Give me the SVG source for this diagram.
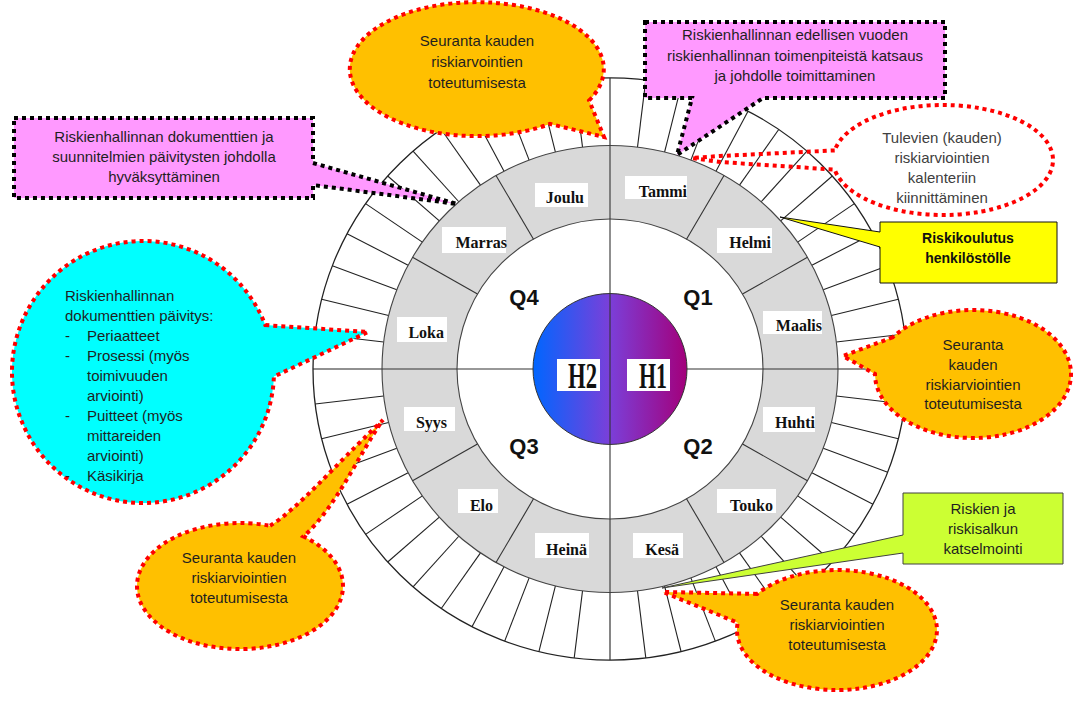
<svg xmlns="http://www.w3.org/2000/svg" xmlns:xlink="http://www.w3.org/1999/xlink" width="1077" height="702" viewBox="0 0 1077 702">
  <style>
    .dotR{stroke:#ff0000;stroke-width:4;stroke-dasharray:4 4;}
    .dotK{stroke:#000;stroke-width:4;stroke-dasharray:4 4;}
    .t{font-family:"Liberation Sans",Arial,sans-serif;font-size:15px;fill:#1f1f1f;text-anchor:middle;}
    .tl{font-family:"Liberation Sans",Arial,sans-serif;font-size:15px;fill:#1f1f1f;}
    .mon{font-family:"Liberation Serif","Times New Roman",serif;font-weight:bold;font-size:16px;fill:#111;text-anchor:end;}
    .h{font-family:"Liberation Serif","Times New Roman",serif;font-weight:bold;font-size:36px;fill:#111;}
    .q{font-family:"Liberation Sans",Arial,sans-serif;font-weight:bold;font-size:22px;fill:#111;text-anchor:middle;}
    .lbl{fill:#fff;}
    .tk{stroke:#222;stroke-width:1.1;}
    .dv{stroke:#333;stroke-width:1.1;}
  </style>
  <defs>
    <linearGradient id="hg" x1="0" y1="0" x2="1" y2="0">
      <stop offset="0" stop-color="#0066ff"/>
      <stop offset="0.5" stop-color="#7b3fd9"/>
      <stop offset="1" stop-color="#a3007a"/>
    </linearGradient>
    <line id="tick" class="tk" x1="0" y1="-228" x2="0" y2="-297"/>
    <line id="mdiv" class="dv" x1="0" y1="-153" x2="0" y2="-228"/>
  </defs>

  <rect width="1077" height="702" fill="#fff"/>

  <!-- year wheel: weeks, months, quarters, halves -->
  <g id="wheel" transform="translate(610 369) scale(1 0.98)">
    <circle r="297" fill="#fff" stroke="#222" stroke-width="1.3"/>
    <g id="weeks">
      <use xlink:href="#tick"/>
      <use xlink:href="#tick" transform="rotate(6.923)"/>
      <use xlink:href="#tick" transform="rotate(13.846)"/>
      <use xlink:href="#tick" transform="rotate(20.769)"/>
      <use xlink:href="#tick" transform="rotate(27.692)"/>
      <use xlink:href="#tick" transform="rotate(34.615)"/>
      <use xlink:href="#tick" transform="rotate(41.538)"/>
      <use xlink:href="#tick" transform="rotate(48.462)"/>
      <use xlink:href="#tick" transform="rotate(55.385)"/>
      <use xlink:href="#tick" transform="rotate(62.308)"/>
      <use xlink:href="#tick" transform="rotate(69.231)"/>
      <use xlink:href="#tick" transform="rotate(76.154)"/>
      <use xlink:href="#tick" transform="rotate(83.077)"/>
      <use xlink:href="#tick" transform="rotate(90)"/>
      <use xlink:href="#tick" transform="rotate(96.923)"/>
      <use xlink:href="#tick" transform="rotate(103.846)"/>
      <use xlink:href="#tick" transform="rotate(110.769)"/>
      <use xlink:href="#tick" transform="rotate(117.692)"/>
      <use xlink:href="#tick" transform="rotate(124.615)"/>
      <use xlink:href="#tick" transform="rotate(131.538)"/>
      <use xlink:href="#tick" transform="rotate(138.462)"/>
      <use xlink:href="#tick" transform="rotate(145.385)"/>
      <use xlink:href="#tick" transform="rotate(152.308)"/>
      <use xlink:href="#tick" transform="rotate(159.231)"/>
      <use xlink:href="#tick" transform="rotate(166.154)"/>
      <use xlink:href="#tick" transform="rotate(173.077)"/>
      <use xlink:href="#tick" transform="rotate(180)"/>
      <use xlink:href="#tick" transform="rotate(186.923)"/>
      <use xlink:href="#tick" transform="rotate(193.846)"/>
      <use xlink:href="#tick" transform="rotate(200.769)"/>
      <use xlink:href="#tick" transform="rotate(207.692)"/>
      <use xlink:href="#tick" transform="rotate(214.615)"/>
      <use xlink:href="#tick" transform="rotate(221.538)"/>
      <use xlink:href="#tick" transform="rotate(228.462)"/>
      <use xlink:href="#tick" transform="rotate(235.385)"/>
      <use xlink:href="#tick" transform="rotate(242.308)"/>
      <use xlink:href="#tick" transform="rotate(249.231)"/>
      <use xlink:href="#tick" transform="rotate(256.154)"/>
      <use xlink:href="#tick" transform="rotate(263.077)"/>
      <use xlink:href="#tick" transform="rotate(270)"/>
      <use xlink:href="#tick" transform="rotate(276.923)"/>
      <use xlink:href="#tick" transform="rotate(283.846)"/>
      <use xlink:href="#tick" transform="rotate(290.769)"/>
      <use xlink:href="#tick" transform="rotate(297.692)"/>
      <use xlink:href="#tick" transform="rotate(304.615)"/>
      <use xlink:href="#tick" transform="rotate(311.538)"/>
      <use xlink:href="#tick" transform="rotate(318.462)"/>
      <use xlink:href="#tick" transform="rotate(325.385)"/>
      <use xlink:href="#tick" transform="rotate(332.308)"/>
      <use xlink:href="#tick" transform="rotate(339.231)"/>
      <use xlink:href="#tick" transform="rotate(346.154)"/>
      <use xlink:href="#tick" transform="rotate(353.077)"/>
    </g>
    <circle r="228" fill="#d9d9d9" stroke="#444" stroke-width="1.1"/>
    <circle r="153" fill="#fff" stroke="#444" stroke-width="1.1"/>
    <g id="months">
      <use xlink:href="#mdiv" transform="rotate(30)"/>
      <use xlink:href="#mdiv" transform="rotate(60)"/>
      <use xlink:href="#mdiv" transform="rotate(120)"/>
      <use xlink:href="#mdiv" transform="rotate(150)"/>
      <use xlink:href="#mdiv" transform="rotate(210)"/>
      <use xlink:href="#mdiv" transform="rotate(240)"/>
      <use xlink:href="#mdiv" transform="rotate(300)"/>
      <use xlink:href="#mdiv" transform="rotate(330)"/>
    </g>
    <line class="dv" x1="-228" y1="0" x2="-77" y2="0"/>
    <line class="dv" x1="77" y1="0" x2="228" y2="0"/>
    <circle r="77" fill="url(#hg)" stroke="#333" stroke-width="1"/>
    <line class="dv" x1="0" y1="-228" x2="0" y2="228"/>
  </g>

  <!-- month labels -->
  <g id="month-labels">
    <rect class="lbl" x="535" y="183" width="53" height="24"/><text class="mon" x="584" y="203">Joulu</text>
    <rect class="lbl" x="625" y="176" width="62" height="23"/><text class="mon" x="687" y="197">Tammi</text>
    <rect class="lbl" x="717" y="228" width="55" height="25"/><text class="mon" x="771" y="248">Helmi</text>
    <rect class="lbl" x="763" y="311" width="59" height="23"/><text class="mon" x="822" y="331">Maalis</text>
    <rect class="lbl" x="763" y="407" width="52" height="25"/><text class="mon" x="815" y="428">Huhti</text>
    <rect class="lbl" x="717" y="489" width="59" height="24"/><text class="mon" x="773" y="511">Touko</text>
    <rect class="lbl" x="633" y="533" width="50" height="25"/><text class="mon" x="679" y="555">Kesä</text>
    <rect class="lbl" x="535" y="533" width="54" height="25"/><text class="mon" x="587" y="555">Heinä</text>
    <rect class="lbl" x="458" y="489" width="40" height="24"/><text class="mon" x="493" y="511">Elo</text>
    <rect class="lbl" x="404" y="407" width="51" height="24"/><text class="mon" x="447" y="428">Syys</text>
    <rect class="lbl" x="397" y="317" width="50" height="25"/><text class="mon" x="444" y="338">Loka</text>
    <rect class="lbl" x="442" y="227" width="64" height="26"/><text class="mon" x="507" y="248">Marras</text>
  </g>

  <!-- quarter and half-year labels -->
  <g id="quarters">
    <text class="q" x="698" y="305">Q1</text>
    <text class="q" x="698" y="454">Q2</text>
    <text class="q" x="524" y="454">Q3</text>
    <text class="q" x="524" y="305">Q4</text>
  </g>
  <g id="halves">
    <rect class="lbl" x="557" y="359" width="43" height="32"/>
    <text class="h" x="568" y="388" textLength="29" lengthAdjust="spacingAndGlyphs">H2</text>
    <rect class="lbl" x="627" y="359" width="43" height="32"/>
    <text class="h" x="639" y="388" textLength="28" lengthAdjust="spacingAndGlyphs">H1</text>
  </g>

  <!-- callouts (bubble outline includes its pointer) -->
  <g id="connectors">
    <g id="c-tulevien">
      <path class="dotR" fill="none" d="M834.7 150.4 L720 156 L692 158 L720 162 L834.7 169.6 A110 55 0 1 0 834.7 150.4 Z"/>
      <text class="t" style="fill:#404040" x="942" y="143">Tulevien (kauden)</text>
      <text class="t" style="fill:#404040" x="942" y="163">riskiarviointien</text>
      <text class="t" style="fill:#404040" x="942" y="183">kalenteriin</text>
      <text class="t" style="fill:#404040" x="942" y="203">kiinnittäminen</text>
    </g>

    <g id="c-seuranta-top">
      <path class="dotR" fill="#ffc000" d="M589.1 100.4 A127 67 0 1 0 549.9 123.9 L604 137 Z"/>
      <text class="t" x="477" y="46">Seuranta kauden</text>
      <text class="t" x="477" y="67">riskiarvointien</text>
      <text class="t" x="477" y="88">toteutumisesta</text>
    </g>

    <g id="c-katsaus">
      <path class="dotK" fill="#ff99ff" d="M645 22 H945 V98 H763 L677 155 L692 98 H645 Z"/>
      <text class="t" x="795" y="40">Riskienhallinnan edellisen vuoden</text>
      <text class="t" x="795" y="61">riskienhallinnan toimenpiteistä katsaus</text>
      <text class="t" x="795" y="81">ja johdolle toimittaminen</text>
    </g>

    <g id="c-hyvaksynta">
      <path class="dotK" fill="#ff99ff" d="M14 118 H313 V163 L457 204 L313 185 V198 H14 Z"/>
      <text class="t" x="164" y="142">Riskienhallinnan dokumenttien ja</text>
      <text class="t" x="164" y="162">suunnitelmien päivitysten johdolla</text>
      <text class="t" x="164" y="182">hyväksyttäminen</text>
    </g>

    <g id="c-koulutus">
      <path fill="#ffff00" stroke="#111" stroke-width="1" d="M880 222 H1057 V283 H880 V247 L780 217 L880 232 Z"/>
      <text class="t" style="font-weight:bold;font-size:14px;fill:#111" x="968" y="243">Riskikoulutus</text>
      <text class="t" style="font-weight:bold;font-size:14px;fill:#111" x="968" y="263">henkilöstölle</text>
    </g>

    <g id="c-paivitys">
      <path class="dotR" fill="#00ffff" d="M265.3 325.1 L368 332 L273.9 376.6 A131 131 0 1 1 265.3 325.1 Z"/>
      <text class="tl" x="65" y="301">Riskienhallinnan</text>
      <text class="tl" x="65" y="321">dokumenttien päivitys:</text>
      <text class="tl" x="65" y="341">-</text><text class="tl" x="87" y="341">Periaatteet</text>
      <text class="tl" x="65" y="361">-</text><text class="tl" x="87" y="361">Prosessi (myös</text>
      <text class="tl" x="87" y="381">toimivuuden</text>
      <text class="tl" x="87" y="401">arviointi)</text>
      <text class="tl" x="65" y="421">-</text><text class="tl" x="87" y="421">Puitteet (myös</text>
      <text class="tl" x="87" y="441">mittareiden</text>
      <text class="tl" x="87" y="461">arviointi)</text>
      <text class="tl" x="65" y="481">-</text><text class="tl" x="87" y="481">Käsikirja</text>
    </g>

    <g id="c-seuranta-right">
      <path class="dotR" fill="#ffc000" d="M892.7 337.3 L843 356 L875 374 A98 64 0 1 0 892.7 337.3 Z"/>
      <text class="t" x="973" y="350">Seuranta</text>
      <text class="t" x="973" y="370">kauden</text>
      <text class="t" x="973" y="390">riskiarviointien</text>
      <text class="t" x="973" y="409">toteutumisesta</text>
    </g>

    <g id="c-katselmointi">
      <path fill="#ccff33" stroke="#404040" stroke-width="1" d="M903 493 H1063 V564 H903 V553 L662 588 L903 535 Z"/>
      <text class="t" x="983" y="514">Riskien ja</text>
      <text class="t" x="983" y="534">riskisalkun</text>
      <text class="t" x="983" y="554">katselmointi</text>
    </g>

    <g id="c-seuranta-bottom">
      <path class="dotR" fill="#ffc000" d="M757.1 593.9 L663 592 L737.7 622.7 A100 60 0 1 0 757.1 593.9 Z"/>
      <text class="t" x="837" y="610">Seuranta kauden</text>
      <text class="t" x="837" y="630">riskiarviointien</text>
      <text class="t" x="837" y="650">toteutumisesta</text>
    </g>

    <g id="c-seuranta-left">
      <path class="dotR" fill="#ffc000" d="M270.1 525.8 C300 507 330 470 383 420 C360 452 336 508 303.4 536.4 A103 63 0 1 1 270.1 525.8 Z"/>
      <text class="t" x="239" y="563">Seuranta kauden</text>
      <text class="t" x="239" y="583">riskiarviointien</text>
      <text class="t" x="239" y="603">toteutumisesta</text>
    </g>
  </g>
</svg>
